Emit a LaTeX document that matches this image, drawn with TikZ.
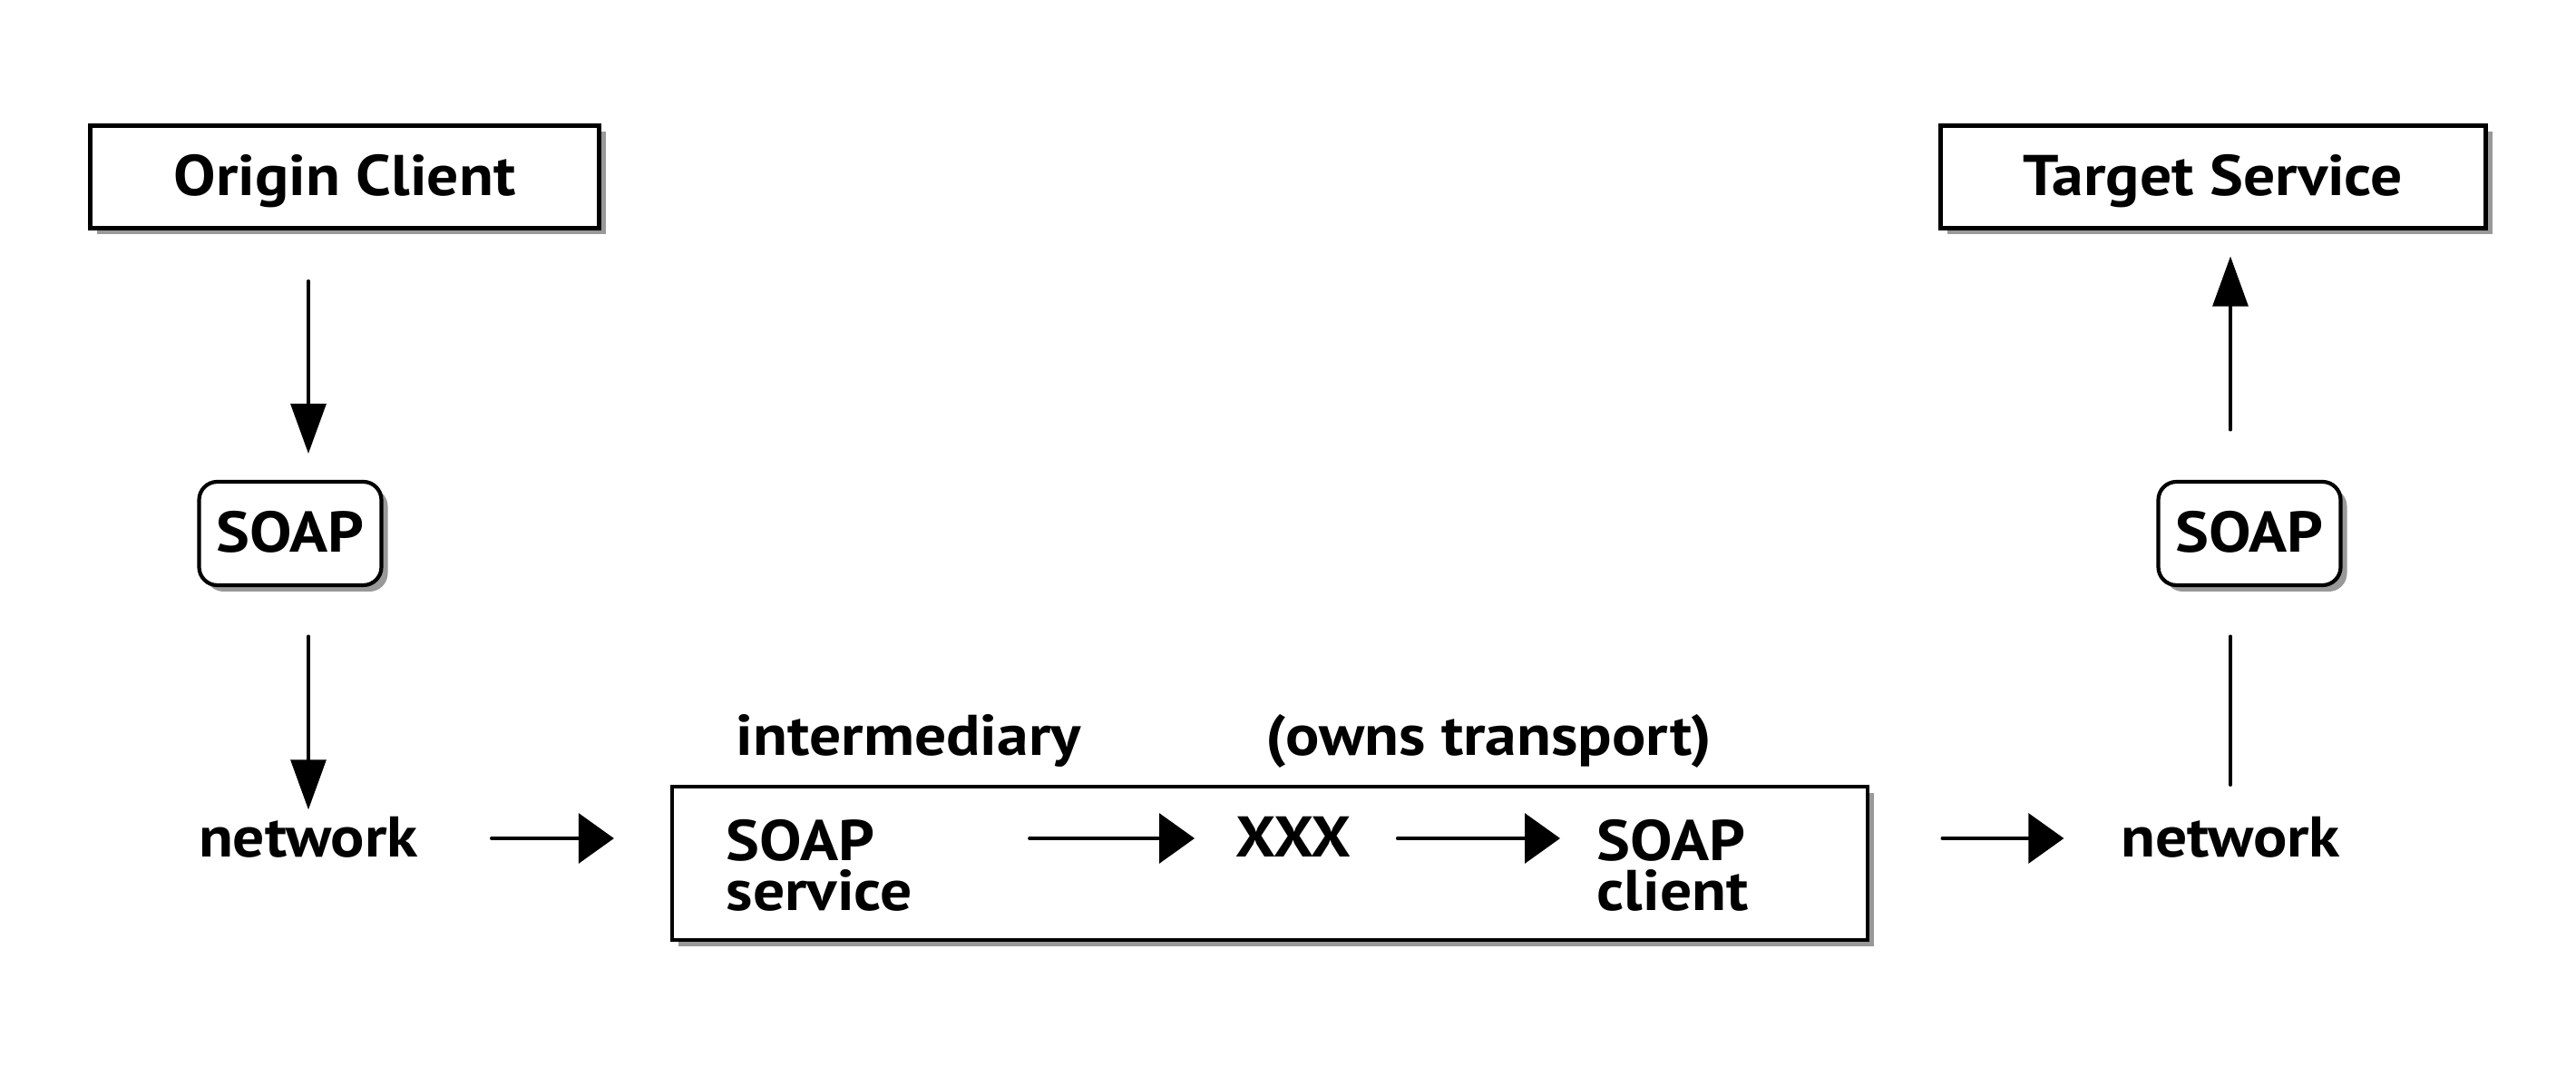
\documentclass[tikz,border=0pt]{standalone}
\usepackage{fontspec}
\setmainfont{PT Sans}[FakeStretch=1.1]
\usetikzlibrary{arrows.meta,shadows}

\begin{document}
\begin{tikzpicture}[line cap=round,
  font=\fontsize{18}{15.6}\selectfont\bfseries,
  box/.style={draw,line width=1.2pt,fill=white,minimum width=5.61cm,minimum height=1.13cm,inner sep=0pt,
    text height=0.42cm,text depth=0pt,
    drop shadow={shadow xshift=0.07cm,shadow yshift=-0.07cm,fill=gray!80,opacity=1}},
  soap/.style={box,rounded corners=0.2cm,minimum width=2.01cm,minimum height=1.14cm},
  word/.style={inner sep=0pt,text height=0.42cm,text depth=0pt},
  lines/.style={inner sep=0pt,align=left,anchor=north west},
  hflow/.style={line width=0.9pt,-{Triangle[length=0.39cm,width=0.55cm]}},
  vflow/.style={line width=0.9pt,-{Triangle[length=0.55cm,width=0.39cm]}}]
  \useasboundingbox (0,0) rectangle (28.40,-11.76);
  \node[box]                                                          (OC)     at (3.80,-1.95) {Origin Client};
  \node[box,minimum width=6.01cm]    [right of=OC,node distance=20.60cm] (TS)     {Target Service};
  \node[soap]  [below of=OC,node distance=3.93cm,xshift=-0.60cm]      (soapL)  {SOAP};
  \node[soap]  [below of=TS,node distance=3.93cm,xshift=0.40cm]       (soapR)  {SOAP};
  \node[word]  [below of=OC,node distance=7.29cm,xshift=-0.40cm]      (netL)   {network};
  \node[word]  [below of=TS,node distance=7.29cm,xshift=0.19cm]       (netR)   {network};
  % intermediary box
  \node[box,minimum width=13.18cm,minimum height=1.69cm]              (inter)  at (14.00,-9.515) {};
  \node[word,anchor=base west]                                        (interL) at (8.11,-8.33)  {intermediary};
  \node[word,anchor=base west]                                        (ownL)   at (13.95,-8.33) {(owns transport)};
  \node[lines]                                                        (srv)    at (8.00,-9.03)  {SOAP\\service};
  \node[word,anchor=base west]                                        (xxx)    at (13.62,-9.45) {XXX};
  \node[lines]                                                        (cli)    at (17.60,-9.03) {SOAP\\client};
  % flow
  \draw[vflow,shorten <=0.56cm,shorten >=0.29cm] (OC.south -| netL) -- (soapL.north -| netL);
  \draw[vflow,shorten <=0.54cm,shorten >=0.10cm] (soapL.south -| netL) -- (netL.north);
  \draw[hflow,shorten <=0.80cm,shorten >=0.62cm] (netL.east) -- (inter.west |- netL);
  \draw[hflow,shorten <=1.28cm,shorten >=0.45cm] (srv.east |- xxx) -- (xxx.west);
  \draw[hflow,shorten <=0.50cm,shorten >=0.40cm] (xxx.east) -- (cli.west |- xxx);
  \draw[hflow,shorten <=0.80cm,shorten >=0.62cm] (inter.east |- netR) -- (netR.west);
  \draw[line width=0.9pt,shorten <=0.37cm,shorten >=0.54cm] (netR.north) -- (soapR.south -| netR);
  \draw[vflow,shorten <=0.55cm,shorten >=0.29cm] (soapR.north -| netR) -- (TS.south -| netR);
\end{tikzpicture}
\end{document}
